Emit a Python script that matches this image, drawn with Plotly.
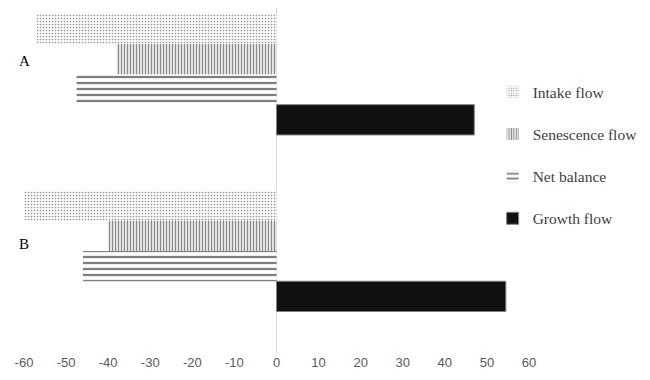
import plotly.graph_objects as go

categories = ["A", "B"]
series_names = ["Intake flow", "Senescence flow", "Net balance", "Growth flow"]
intake = [-57, -60]
senescence = [-38, -40]
net_balance = [-47.5, -46]
growth = [47, 54.5]
x_ticks = [-60, -50, -40, -30, -20, -10, 0, 10, 20, 30, 40, 50, 60]
x_tick_labels = ["-60", "-50", "-40", "-30", "-20", "-10", "0", "10", "20", "30", "40", "50", "60"]

values = [intake, senescence, net_balance, growth]
styles = [
    dict(color="white", pattern=dict(shape=".", fgcolor="#222222", bgcolor="white", size=3, solidity=0.25), line=dict(width=0)),
    dict(color="white", pattern=dict(shape="|", fgcolor="#111111", bgcolor="white", size=3, solidity=0.5), line=dict(width=0)),
    dict(color="white", pattern=dict(shape="-", fgcolor="#000000", bgcolor="white", size=6, solidity=0.38), line=dict(width=0)),
    dict(color="#111111", line=dict(color="#808080", width=1)),
]

fig = go.Figure()
for name, vals, st in zip(series_names, values, styles):
    fig.add_trace(go.Bar(
        y=categories, x=vals, name=name, orientation="h",
        marker=st, legendgroup=name,
    ))

for cat, dy in zip(categories, [-13, -7]):
    fig.add_annotation(x=0.0, y=cat, xref="paper", yref="y", text=cat, showarrow=False,
                       xanchor="center", yshift=-dy,
                       font=dict(family="Liberation Serif", size=15, color="#000000"))

fig.update_layout(
    width=650, height=380,
    margin=dict(l=16, r=129, t=0, b=35),
    paper_bgcolor="white", plot_bgcolor="white",
    barmode="group", bargap=0.314, bargroupgap=0,
    showlegend=True,
    legend=dict(x=0.928, xanchor="left", y=0.805, yanchor="top",
                font=dict(family="Liberation Serif", size=15.5, color="#404040"),
                tracegroupgap=19, itemwidth=30, bgcolor="rgba(0,0,0,0)"),
    xaxis=dict(range=[-60, 60], tickvals=x_ticks, ticktext=x_tick_labels, showgrid=False, zeroline=True,
               zerolinecolor="#d9d9d9", zerolinewidth=1, showline=False,
               tickfont=dict(family="Liberation Sans", size=13, color="#595959"), ticks=""),
    yaxis=dict(range=[1.578, -0.376], type="category", showticklabels=False, showgrid=False,
               zeroline=False, showline=False),
)

fig.write_html("out.html")
